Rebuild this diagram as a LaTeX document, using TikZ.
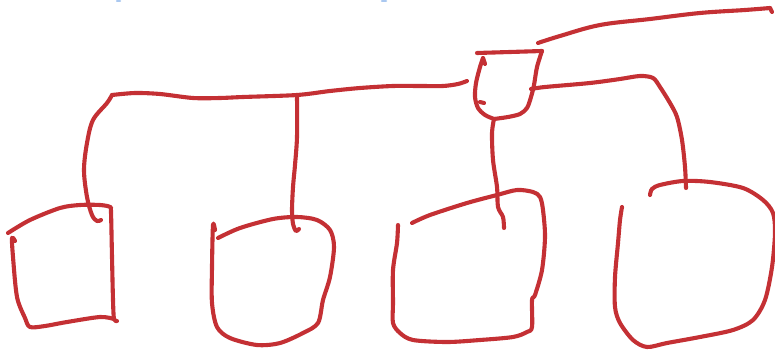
\documentclass[tikz,border=0pt]{standalone}
\usetikzlibrary{calc}
\definecolor{penred}{RGB}{196,48,52}
\definecolor{penblue}{RGB}{170,200,240}
\tikzset{
    sketch/.style={draw=penred, line width=4.1pt, line cap=round, line join=round},
    faint/.style={draw=penblue, line width=2.5pt, line cap=round}
}

\begin{document}
\begin{tikzpicture}[x=1pt, y=-1pt]
\useasboundingbox (0,0) rectangle (775,353);
% junctions of the tree
\coordinate (inlet) at (538,43);
\coordinate (feed) at (770,8);
\coordinate (trunkL) at (112,95);
\coordinate (trunkM) at (297,95);
\coordinate (trunkR) at (467,81);
\coordinate (rootB) at (494,119);
\coordinate (rootR) at (531,89);
\coordinate (tipA) at (101,220);
\coordinate (tipB) at (299,229);
\coordinate (tipC) at (504,228);
\coordinate (tipD) at (686,188);

% faint marks at the top edge
\draw[faint] (117,0.8) -- (120,0.8);
\draw[faint] (382,0.8) -- (386,0.8);

% incoming stroke
\draw[sketch] plot[smooth, tension=0.6] coordinates {(inlet) (560,36) (600,25) (650,19) (700,13) (745,10) (feed)};
\draw[sketch] (feed) -- (772,12);

% root
\draw[sketch] plot[smooth, tension=0.5] coordinates {(477,53) (510,52) (542,51)};
\draw[sketch] plot[smooth, tension=0.5] coordinates {(542,51) (537,67) (534,85) (531,97) (527,108) (520,114) (508,117) (rootB)};
\draw[sketch] plot[smooth, tension=0.5] coordinates {(483,58) (480,67) (476,83) (475,97) (478,108) (485,115) (rootB)};
\draw[sketch] (483,58) -- (485,64);
\draw[sketch] (480,102) -- (484,103);

% trunk to the left children
\draw[sketch] plot[smooth, tension=0.5] coordinates {(trunkL) (135,93) (160,94) (193,98) (220,98) (243,97) (trunkM) (330,91) (360,88) (393,86) (420,86) (443,86) (458,84) (trunkR)};

% connectors down to the children
\draw[sketch] plot[smooth, tension=0.55] coordinates {(trunkL) (107,103) (93,120) (87,143) (84,170) (87,197) (92,215) (97,221) (tipA)};
\draw[sketch] plot[smooth, tension=0.5] coordinates {(trunkM) (297,137) (295,165) (293,187) (292,210) (293,224) (296,231) (tipB)};
\draw[sketch] plot[smooth, tension=0.5] coordinates {(rootB) (492,133) (493,160) (497,187) (498,207) (503,217) (tipC)};
\draw[sketch] plot[smooth, tension=0.5] coordinates {(rootR) (545,87) (590,83) (620,79) (640,76) (653,78) (660,87) (670,103) (677,117) (682,140) (685,167) (tipD)};

% first child
\draw[sketch] plot[smooth, tension=0.5] coordinates {(8,233) (30,220) (60,208) (80,205) (100,205) (110,207) (111,212) (112,257) (113,300) (114,319) (117,321)};
\draw[sketch] plot[smooth, tension=0.5] coordinates {(114,319) (100,317) (67,322) (45,326) (30,327) (25,318) (17,297) (13,257) (12,238) (15,241)};

% second child
\draw[sketch] plot[smooth, tension=0.5] coordinates {(218,238) (240,228) (273,219) (297,217) (317,220) (330,230) (334,247) (330,277) (323,300) (318,323) (303,333) (280,343) (257,345) (230,338) (217,327) (212,303) (212,267) (213,225) (215,230)};

% third child
\draw[sketch] plot[smooth, tension=0.5] coordinates {(412,223) (430,215) (467,203) (497,195) (517,190) (533,192) (540,197) (543,210) (545,237) (542,270) (535,295) (532,300) (532,327) (527,332) (513,337) (480,340) (447,342) (413,340) (400,333) (393,323) (393,303) (393,270) (397,243) (398,225)};

% fourth child
\draw[sketch] plot[smooth, tension=0.5] coordinates {(650,195) (652,189) (660,185) (683,181) (710,182) (743,188) (763,200) (773,213) (775,233) (772,267) (765,300) (753,320) (733,330) (700,337) (667,343) (647,347) (633,340) (620,323) (615,307) (615,277) (618,243) (620,220) (622,207)};
\end{tikzpicture}
\end{document}
